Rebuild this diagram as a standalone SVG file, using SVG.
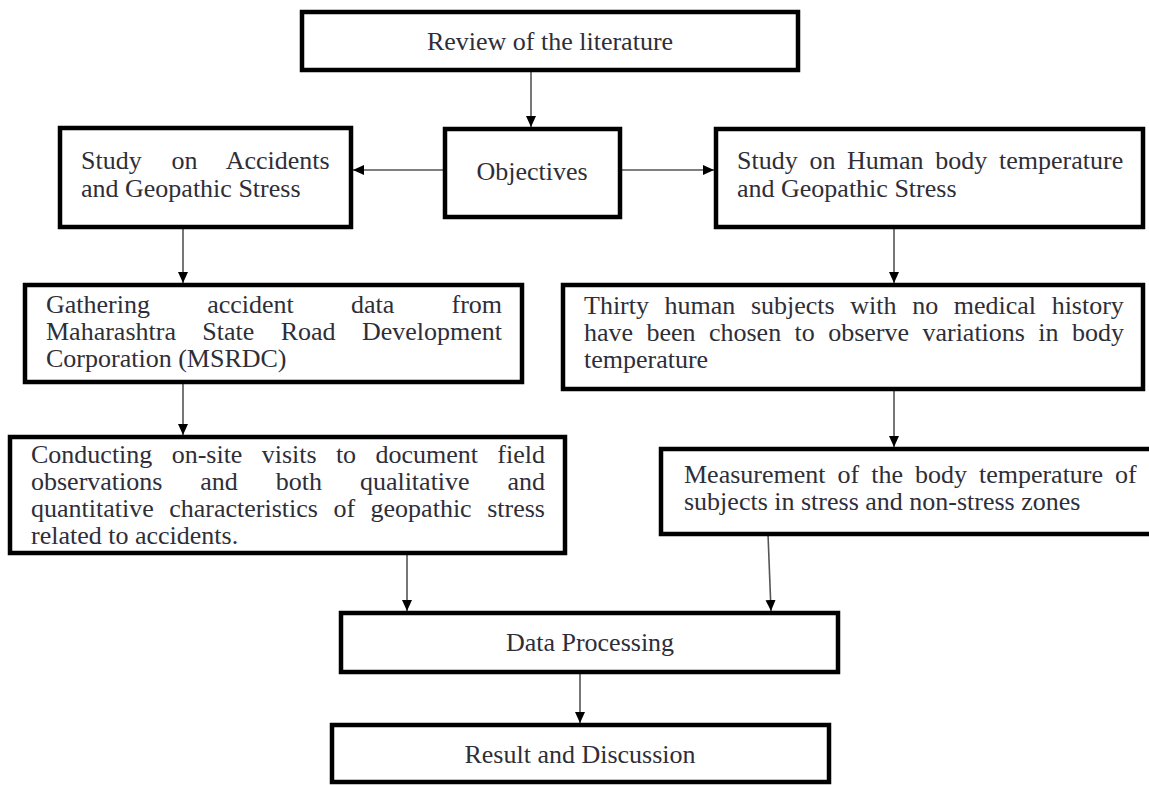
<svg xmlns="http://www.w3.org/2000/svg" width="1149" height="785" viewBox="0 0 1149 785">
<style>
.box{fill:#ffffff;stroke:#000000;stroke-width:4.5}
.t{font-family:"Liberation Serif","Times New Roman",serif;font-size:26px;fill:#2e2e38}
.c{text-anchor:middle}
.edge{stroke:#555555;stroke-width:1.6;fill:none;marker-end:url(#ah)}
</style>
<defs>
<marker id="ah" markerUnits="userSpaceOnUse" markerWidth="12" markerHeight="12" refX="11" refY="6" orient="auto">
<path d="M0,1 L11,6 L0,11 Z" fill="#000000"/>
</marker>
</defs>
<rect width="1149" height="785" fill="#ffffff"/>
<g id="connectors">
<line class="edge" x1="531" y1="70" x2="531" y2="127"/>
<line class="edge" x1="445" y1="170" x2="353" y2="170"/>
<line class="edge" x1="620" y1="170" x2="714" y2="170"/>
<line class="edge" x1="183" y1="227" x2="183" y2="283"/>
<line class="edge" x1="894" y1="227" x2="894" y2="283"/>
<line class="edge" x1="183" y1="382" x2="183" y2="435"/>
<line class="edge" x1="894" y1="389" x2="894" y2="447"/>
<line class="edge" x1="407" y1="553" x2="407" y2="611"/>
<line class="edge" x1="768" y1="534" x2="771" y2="611"/>
<line class="edge" x1="580" y1="672" x2="580" y2="723"/>
</g>
<g id="review">
<rect class="box" x="302" y="12" width="496" height="58"/>
<text class="t c" x="550" y="50">Review of the literature</text>
</g>
<g id="objectives">
<rect class="box" x="445" y="129" width="175" height="88"/>
<text class="t c" x="532" y="180">Objectives</text>
</g>
<g id="study-accidents">
<rect class="box" x="60" y="128" width="291" height="99"/>
<text class="t" x="81" y="169" word-spacing="23.2">Study on Accidents</text>
<text class="t" x="81" y="197">and Geopathic Stress</text>
</g>
<g id="study-human">
<rect class="box" x="716" y="129" width="427" height="98"/>
<text class="t" x="737" y="169" word-spacing="5.2">Study on Human body temperature</text>
<text class="t" x="737" y="197">and Geopathic Stress</text>
</g>
<g id="gathering">
<rect class="box" x="25" y="285" width="497" height="97"/>
<text class="t" x="46" y="313" word-spacing="50.7">Gathering accident data from</text>
<text class="t" x="46" y="340" word-spacing="19.9">Maharashtra State Road Development</text>
<text class="t" x="46" y="367">Corporation (MSRDC)</text>
</g>
<g id="thirty">
<rect class="box" x="563" y="285" width="580" height="104"/>
<text class="t" x="584" y="314" word-spacing="9.1">Thirty human subjects with no medical history</text>
<text class="t" x="584" y="341" word-spacing="6.9">have been chosen to observe variations in body</text>
<text class="t" x="584" y="368">temperature</text>
</g>
<g id="conducting">
<rect class="box" x="10" y="437" width="555" height="116"/>
<text class="t" x="31" y="463" word-spacing="12.8">Conducting on-site visits to document field</text>
<text class="t" x="31" y="490" word-spacing="31.4">observations and both qualitative and</text>
<text class="t" x="31" y="517" word-spacing="9">quantitative characteristics of geopathic stress</text>
<text class="t" x="31" y="544">related to accidents.</text>
</g>
<g id="measurement">
<rect class="box" x="661" y="449" width="500" height="85"/>
<text class="t" x="684" y="483" word-spacing="5.5">Measurement of the body temperature of</text>
<text class="t" x="684" y="510">subjects in stress and non-stress zones</text>
</g>
<g id="data-processing">
<rect class="box" x="341" y="613" width="497" height="59"/>
<text class="t c" x="590" y="651">Data Processing</text>
</g>
<g id="result">
<rect class="box" x="332" y="725" width="497" height="57"/>
<text class="t c" x="580" y="763">Result and Discussion</text>
</g>
</svg>
